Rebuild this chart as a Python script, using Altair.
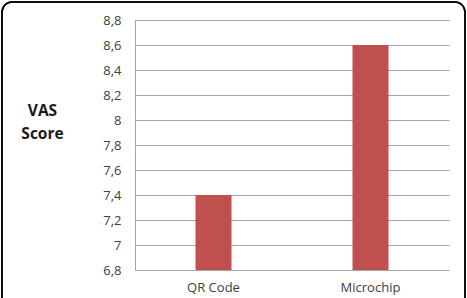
import altair as alt
import pandas as pd

# VAS score per identification method
methods = ["QR Code", "Microchip"]
vas_scores = [7.4, 8.6]

# Value axis: range and tick positions
axis_min = 6.8
axis_max = 8.8
tick_values = [6.8, 7.0, 7.2, 7.4, 7.6, 7.8, 8.0, 8.2, 8.4, 8.6, 8.8]

df = pd.DataFrame({"method": methods, "vas": vas_scores, "base": [axis_min] * len(methods)})

FONT = "Open Sans"
BAR_COLOR = "#C0504D"
GRID_COLOR = "#A6A6A6"

bars = alt.Chart(df).mark_bar(size=36, color=BAR_COLOR).encode(
    x=alt.X(
        "method:N",
        sort=methods,
        scale=alt.Scale(paddingInner=0, paddingOuter=0),
        axis=alt.Axis(
            title=None, labelAngle=0, ticks=False, domain=False,
            labelFont=FONT, labelFontSize=13, labelColor="#404040", labelPadding=11,
        ),
    ),
    y=alt.Y(
        "vas:Q",
        scale=alt.Scale(domain=[axis_min, axis_max], zero=False, nice=False),
        axis=alt.Axis(
            values=tick_values,
            labelExpr="replace(format(datum.value, '.1~f'), '.', ',')",
            title=["VAS", "Score"],
            titleAngle=0, titleAlign="center", titleBaseline="middle",
            titleX=-93, titleY=90, titleFont=FONT, titleFontSize=15.5,
            titleFontWeight="bold", titleColor="#1A1A1A", titleLineHeight=23,
            labelFont=FONT, labelFontSize=13, labelColor="#404040", labelPadding=14,
            ticks=False, domainColor=GRID_COLOR, gridColor=GRID_COLOR,
        ),
    ),
    y2="base:Q",
)

# Rounded frame around the whole figure
frame = alt.Chart(df).mark_rect(
    fill=None, stroke="#000000", strokeWidth=1.5, cornerRadius=10, clip=False
).encode(
    x=alt.value(-133), x2=alt.value(330), y=alt.value(-18), y2=alt.value(300),
)

chart = alt.layer(frame, bars).properties(
    width=314,
    height=250,
    padding={"left": 135, "top": 20, "right": 18, "bottom": 28},
    autosize=alt.AutoSizeParams(type="none"),
    background="#FFFFFF",
).configure_view(stroke=None)

chart.save("out.html", embed_options={"renderer": "svg", "actions": False})
